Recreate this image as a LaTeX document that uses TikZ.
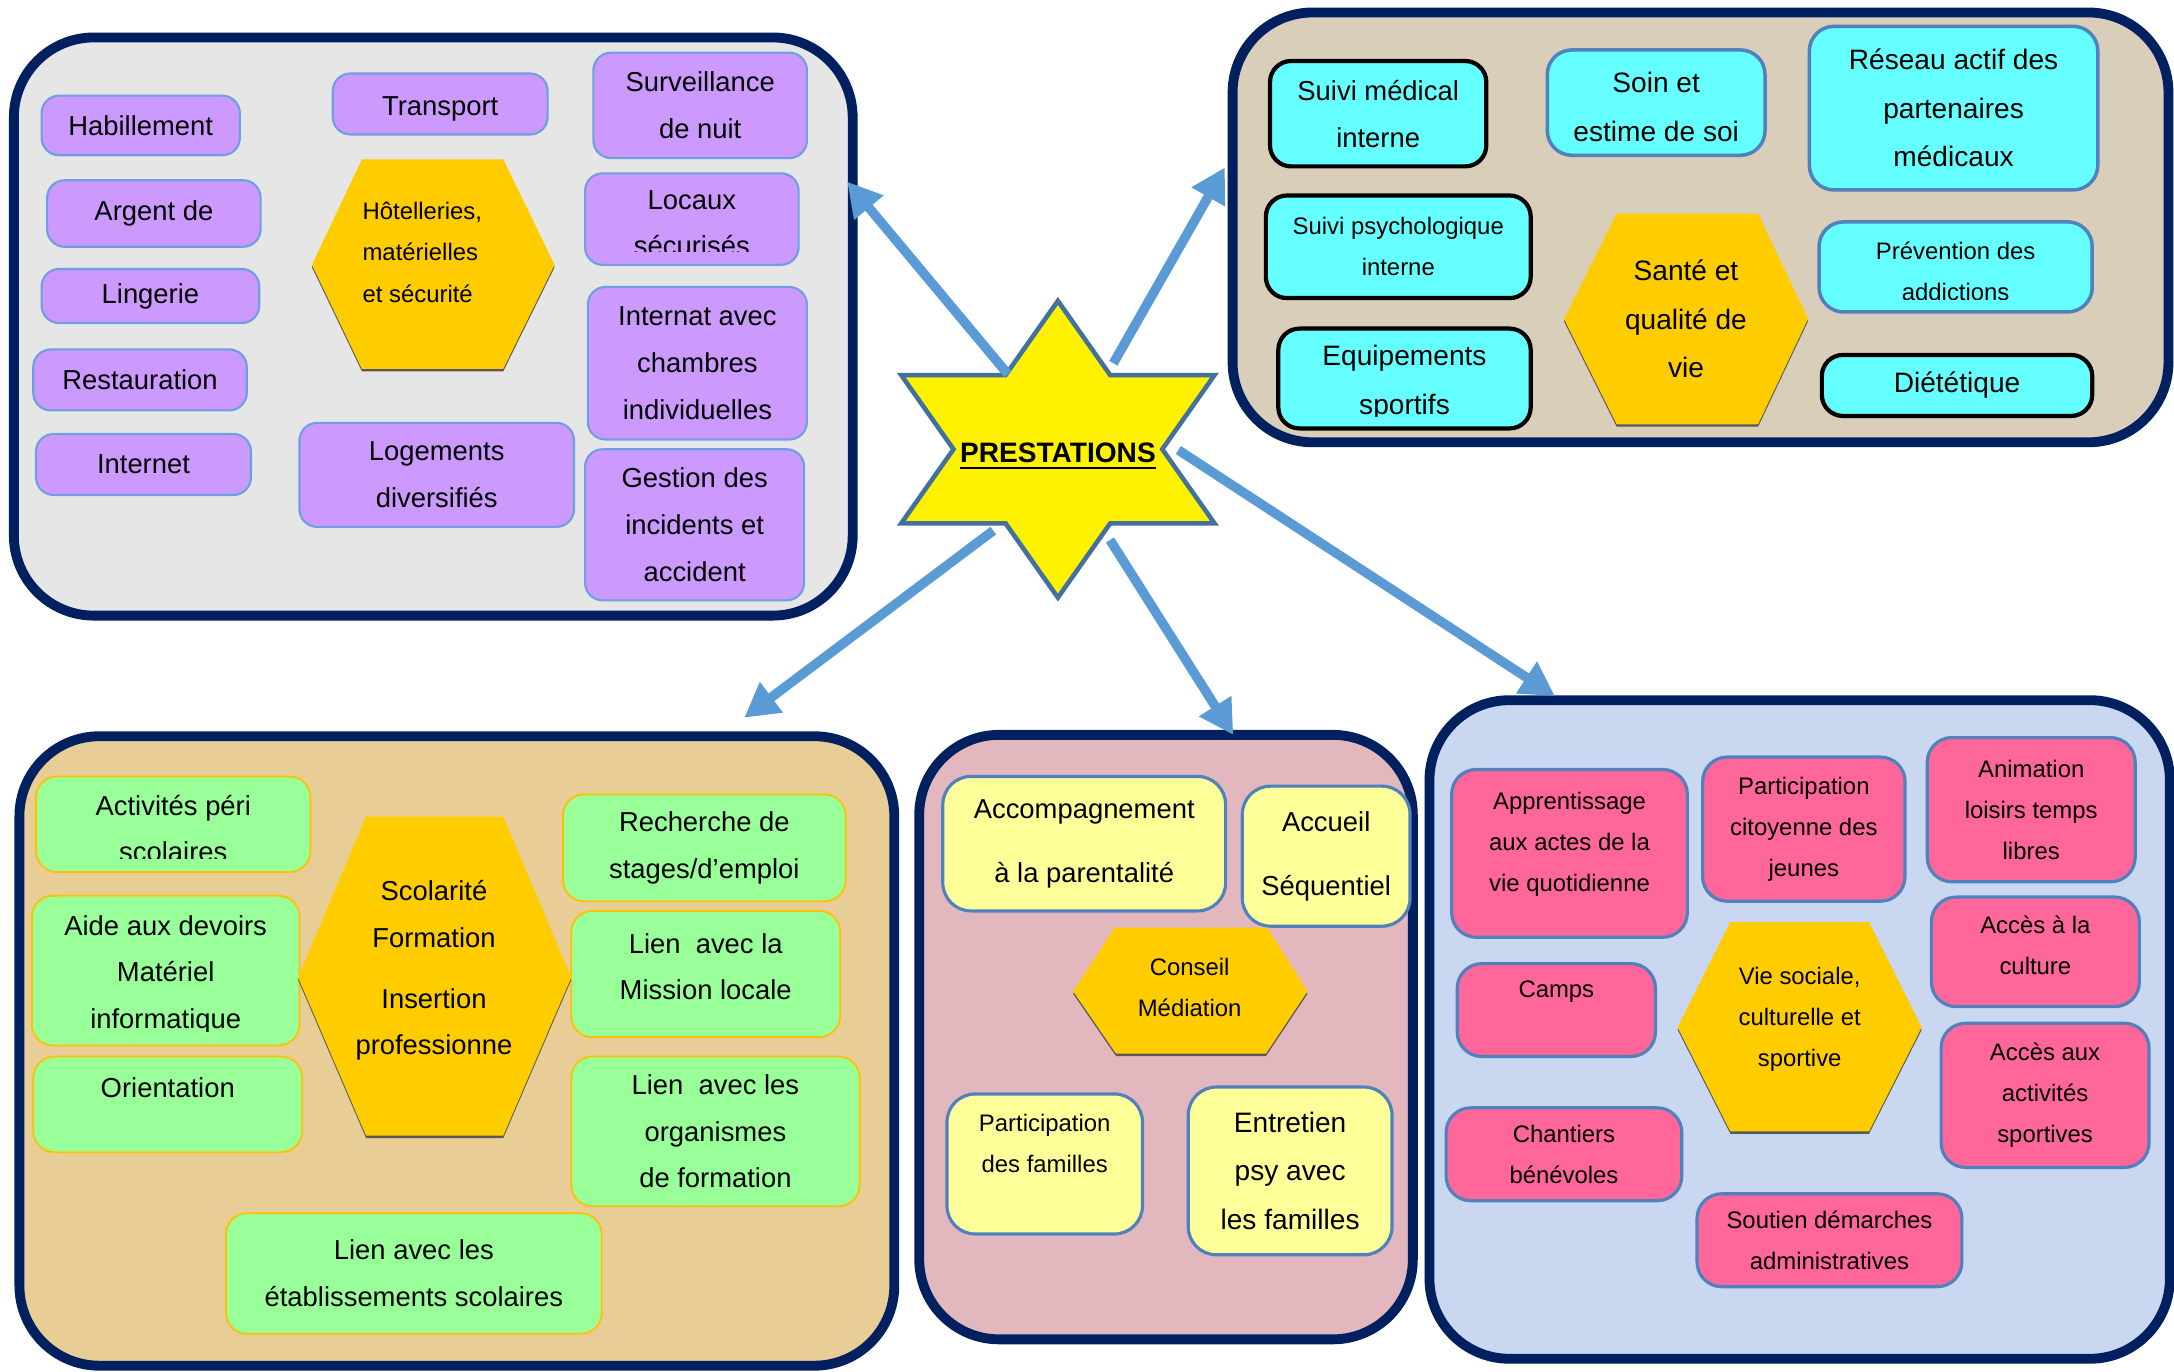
\documentclass[tikz,border=0pt]{standalone}
\usepackage{fontspec}
\setmainfont{Liberation Sans}
\usetikzlibrary{arrows.meta,positioning}

\definecolor{navy}{RGB}{0,32,96}
\definecolor{flowblue}{RGB}{91,155,213}
\definecolor{starline}{RGB}{65,113,156}
\definecolor{hexgold}{RGB}{255,204,0}
\definecolor{lilac}{RGB}{204,153,255}
\definecolor{aqua}{RGB}{102,255,255}
\definecolor{mint}{RGB}{153,255,153}
\definecolor{cream}{RGB}{255,255,153}
\definecolor{rose}{RGB}{255,102,153}
\definecolor{edgeblue}{RGB}{79,129,189}
\definecolor{lightedge}{RGB}{110,160,225}
\definecolor{gold}{RGB}{255,192,0}
\definecolor{granite}{RGB}{230,230,230}
\definecolor{linen}{RGB}{217,206,186}
\definecolor{papyrus}{RGB}{232,205,150}
\definecolor{blush}{RGB}{226,184,190}
\definecolor{ice}{RGB}{201,215,240}

\newcommand\fbig{\fontsize{7.8}{13.3}\selectfont}
\newcommand\fsmall{\fontsize{6.8}{11.7}\selectfont}
\newcommand\fwide{\fontsize{7.8}{18.2}\selectfont}
\newcommand\fhex{\fontsize{8}{13.8}\selectfont}
\newcommand\heavyline[1]{\setbox0\hbox{#1}\rlap{\raisebox{-1.8pt}{\rule{\wd0}{0.75pt}}}\box0}

\newcommand\cuttext[3]{%
  \begin{scope}
    \clip (#1.north west) rectangle ([yshift=0.145cm]#1.south east);
    \node[align=center, font=#2, inner sep=0pt] (#1-txt) at ([yshift=-1.2pt]#1.center) {#3};
  \end{scope}}

\tikzset{
	area/.style args={#1:#2:#3:#4}{at={({(#1+#3)/2},{(#2+#4)/2})},
		minimum width={(#3-#1)*0.013865cm}, minimum height={(#4-#2)*0.013865cm}},
	frame/.style={draw=navy, line width=2.8pt, rounded corners=0.8cm, inner sep=0pt},
	card/.style={rounded corners=5pt, inner sep=0pt, align=center, font=\fbig},
	lilacbox/.style={card, fill=lilac, draw=lightedge, line width=0.6pt},
	aquabox/.style={card, fill=aqua, draw=black, line width=1.2pt, rounded corners=6pt},
	aquablue/.style={card, fill=aqua, draw=edgeblue, line width=1pt, rounded corners=7pt},
	mintbox/.style={card, fill=mint, draw=gold, line width=0.5pt, rounded corners=6pt},
	creambox/.style={card, fill=cream, draw=edgeblue, line width=0.9pt, rounded corners=8pt},
	rosebox/.style={card, fill=rose, draw=edgeblue, line width=0.9pt, rounded corners=7pt, font=\fsmall},
	hexa/.style={fill=hexgold, preaction={fill=black!65, transform canvas={yshift=-0.7pt}}},
	flow/.style={draw=flowblue, line width=2.7pt, -{Triangle[length=0.34cm, width=0.36cm]}},
}

\begin{document}
\begin{tikzpicture}[x=0.013865cm, y=-0.013865cm]
	\useasboundingbox (0,0) rectangle (1568,989);

	\node[frame, fill=granite, area=10:27:615:444] (hotel) {};
	\node[lilacbox, area=30:69:173:112] (habil) {Habillement};
	\node[lilacbox, area=34:130:188:178] (argent) {Argent de};
	\node[lilacbox, area=30:194:187:233] (linge) {Lingerie};
	\node[lilacbox, area=24:252:178:296] (resto) {Restauration};
	\node[lilacbox, area=26:313:181:357] (inter) {Internet};
	\node[lilacbox, area=240:53:395:97] (transp) {\mbox{}\\[-5.2pt]Transport};
	\node[lilacbox, area=428:38:582:114] (nuit) {Surveillance\\de nuit};
	\node[lilacbox, area=422:125:576:191] (locaux) {};
	\cuttext{locaux}{\fbig}{Locaux\\sécurisés}
	\node[lilacbox, area=424:207:582:317] (internat) {Internat avec\\chambres\\individuelles};
	\node[lilacbox, area=216:305:414:380] (logem) {Logements\\diversifiés};
	\node[lilacbox, area=422:324:580:433] (gestion) {Gestion des\\incidents et\\accident};
	\path[hexa] (261,115) -- (363,115) -- (400,191) -- (363,266) -- (261,266) -- (225,191) -- cycle;
	\node[font=\fsmall, align=left, anchor=west, inner sep=0pt] (hotelhex) at (261,182) {Hôtelleries,\\matérielles\\et sécurité};

	\node[frame, fill=linen, area=889:9:1564:319] (sante) {};
	\node[aquabox, area=916:44:1072:120] (medic) {Suivi médical\\interne};
	\node[aquablue, font=\fhex, area=1116:36:1273:112] (soin) {\mbox{}\\[-5.6pt]Soin et\\estime de soi};
	\node[aquablue, font=\fhex, area=1305:19:1513:137] (reseau) {Réseau actif des\\partenaires\\médicaux};
	\node[aquabox, font=\fsmall, area=913:141:1104:215] (psy) {Suivi psychologique\\interne};
	\node[aquabox, area=922:237:1104:309] (equip) {};
	\cuttext{equip}{\fhex}{Equipements\\sportifs}
	\node[aquablue, area=1312:160:1509:225] (addic) {};
	\cuttext{addic}{\fsmall}{Prévention des\\addictions}
	\node[aquabox, font=\fhex, area=1314:256:1509:300] (diet) {Diététique};
	\path[hexa] (1166,154) -- (1268,154) -- (1304,230) -- (1268,306) -- (1166,306) -- (1128,230) -- cycle;
	\node[font=\fhex, align=center] (santehex) at (1216,230) {Santé et\\qualité de\\vie};

	\node[frame, fill=papyrus, area=14:531:645:985] (ecole) {};
	\node[mintbox, area=26:560:224:629] (peri) {};
	\cuttext{peri}{\fbig}{Activités péri\\scolaires}
	\node[mintbox, area=23:646:216:754] (devoirs) {};
	\cuttext{devoirs}{\fbig}{Aide aux devoirs\\Matériel\\informatique}
	\node[mintbox, area=24:762:218:831] (orient) {Orientation\\[-4pt]\mbox{}};
	\node[mintbox, area=406:573:610:650] (stages) {Recherche de\\stages/d’emploi};
	\node[mintbox, area=412:657:606:748] (mission) {Lien~ avec la\\Mission locale\\[-9pt]\mbox{}};
	\node[mintbox, area=412:762:620:870] (organ) {Lien~ avec les\\organismes\\de formation};
	\node[mintbox, area=163:875:434:962] (etab) {Lien avec les\\établissements scolaires};
	\path[hexa] (264,589) -- (363,589) -- (412,705) -- (363,819) -- (264,819) -- (215,705) -- cycle;
	\node[font=\fbig, align=center] (ecolehex) at (313,700) {Scolarité\\Formation\\[4pt]Insertion\\professionne};

	\node[frame, fill=blush, area=663:530:1019:966] (famille) {};
	\node[creambox, font=\fwide, area=680:560:884:657] (parent) {Accompagnement\\à la parentalité};
	\node[creambox, font=\fwide, area=896:567:1017:668] (accueil) {Accueil\\Séquentiel};
	\path[hexa] (804,669) -- (914,669) -- (943,715) -- (913,760) -- (805,760) -- (774,715) -- cycle;
	\node[font=\fsmall, align=center] (famhex) at (858,712) {Conseil\\Médiation};
	\node[creambox, font=\fsmall, area=683:789:824:890] (partic) {Participation\\des familles\\\mbox{}};
	\node[creambox, font=\fhex, area=857:784:1004:905] (entret) {Entretien\\psy avec\\les familles};

	\node[frame, fill=ice, area=1031:505:1565:980] (loisirs) {};
	\node[rosebox, area=1047:555:1217:676] (appren) {Apprentissage\\aux actes de la\\vie quotidienne\\[-5pt]\mbox{}};
	\node[rosebox, area=1228:546:1374:650] (citoy) {Participation\\citoyenne des\\jeunes};
	\node[rosebox, area=1390:532:1540:636] (anim) {Animation\\loisirs temps\\libres};
	\node[rosebox, area=1051:695:1194:762] (camps) {Camps\\\mbox{}};
	\path[hexa] (1248,665) -- (1348,665) -- (1386,741) -- (1348,816) -- (1248,816) -- (1210,741) -- cycle;
	\node[font=\fsmall, align=center] (viehex) at (1298,735) {Vie sociale,\\culturelle et\\sportive};
	\node[rosebox, area=1393:647:1543:726] (culture) {Accès à la\\culture\\[-8pt]\mbox{}};
	\node[rosebox, area=1400:738:1550:842] (sport) {Accès aux\\activités\\sportives};
	\node[rosebox, area=1043:799:1213:866] (chant) {Chantiers\\bénévoles};
	\node[rosebox, area=1224:861:1415:928] (admin) {Soutien démarches\\administratives};

	\filldraw[fill=yellow, draw=starline, line width=1.3pt] (763,217) -- (800.7,270.5) -- (876,270.5) -- (838.3,324) -- (876,377.5) -- (800.7,377.5) -- (763,431) -- (725.3,377.5) -- (650,377.5) -- (687.7,324) -- (650,270.5) -- (725.3,270.5) -- cycle;
	\node[font=\bfseries\fontsize{8}{10}\selectfont] (prest) at (763,329) {\heavyline{PRESTATIONS}};

	\coordinate (a1) at (727,270);
	\coordinate (a2) at (803,262);
	\coordinate (a3) at (716.4,382.7);
	\coordinate (a4) at (800.6,389.5);
	\coordinate (a5) at (849.9,324.6);
	\coordinate (t1) at (611,131);
	\coordinate (t2) at (883.5,120.7);
	\coordinate (t3) at (536.8,517.6);
	\coordinate (t4) at (889.5,530);
	\coordinate (t5) at (1121.5,502);
	\draw[flow] (a1) -- (t1);
	\draw[flow] (a2) -- (t2);
	\draw[flow] (a3) -- (t3);
	\draw[flow] (a4) -- (t4);
	\draw[flow] (a5) -- (t5);
\end{tikzpicture}
\end{document}
